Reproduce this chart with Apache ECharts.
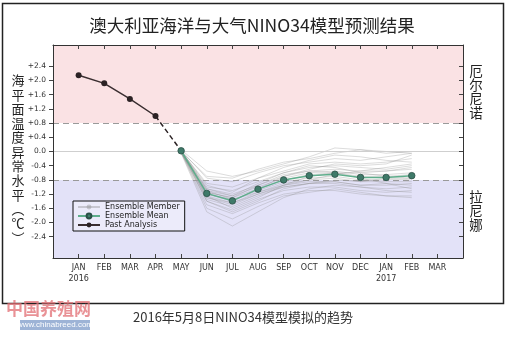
<!DOCTYPE html>
<html><head><meta charset="utf-8">
<script src="https://cdn.jsdelivr.net/npm/echarts@6/dist/echarts.min.js"></script>
<style>html,body{margin:0;padding:0;background:#fff}#c{width:507px;height:337px}</style>
</head><body><div id="c"></div>
<script>
// ---- data ----
const monthLabels = ['JAN\n2016','FEB','MAR','APR','MAY','JUN','JUL','AUG','SEP','OCT','NOV','DEC','JAN\n2017','FEB','MAR'];
const yTickValues = [-2.4,-2.0,-1.6,-1.2,-0.8,-0.4,0,0.4,0.8,1.2,1.6,2.0,2.4];
const pastMonths = [0,1,2,3];
const pastValues = [2.15,1.92,1.48,1.00];
const forecastMonths = [4,5,6,7,8,9,10,11,12,13];
const meanValues = [0.02,-1.18,-1.39,-1.06,-0.80,-0.68,-0.64,-0.73,-0.73,-0.68];
const memberValues = [
  [0.05,-0.55,-0.70,-0.55,-0.35,-0.15,0.10,0.05,-0.05,0.00],
  [0.03,-0.75,-0.85,-0.60,-0.40,-0.30,-0.20,-0.25,-0.15,-0.05],
  [0.00,-0.90,-1.00,-0.75,-0.55,-0.35,-0.30,-0.35,-0.30,-0.20],
  [0.02,-1.00,-1.10,-0.85,-0.60,-0.45,-0.40,-0.45,-0.50,-0.40],
  [0.01,-1.05,-1.20,-0.95,-0.70,-0.55,-0.50,-0.55,-0.55,-0.50],
  [0.00,-1.10,-1.25,-1.00,-0.75,-0.60,-0.55,-0.65,-0.65,-0.60],
  [0.02,-1.15,-1.30,-1.05,-0.80,-0.65,-0.60,-0.70,-0.70,-0.65],
  [0.00,-1.20,-1.35,-1.10,-0.85,-0.75,-0.70,-0.80,-0.80,-0.75],
  [-0.02,-1.25,-1.45,-1.15,-0.90,-0.80,-0.75,-0.85,-0.85,-0.85],
  [0.01,-1.30,-1.50,-1.20,-0.95,-0.85,-0.85,-0.95,-0.95,-0.90],
  [-0.01,-1.35,-1.55,-1.25,-1.00,-0.90,-0.90,-1.00,-1.05,-1.00],
  [0.00,-1.40,-1.65,-1.35,-1.10,-1.00,-1.00,-1.10,-1.15,-1.10],
  [-0.03,-1.50,-1.75,-1.45,-1.20,-1.10,-1.10,-1.20,-1.25,-1.25],
  [-0.02,-1.60,-1.90,-1.55,-1.25,-1.15,-1.05,-1.15,-1.25,-1.30],
  [-0.05,-1.70,-2.10,-1.70,-1.30,-1.05,-0.95,-1.00,-1.10,-1.15],
  [0.02,-0.95,-1.15,-0.75,-0.45,-0.25,-0.10,-0.15,-0.25,-0.30],
  [0.01,-1.20,-1.40,-1.05,-0.70,-0.50,-0.35,-0.40,-0.35,-0.10],
  [0.00,-1.10,-1.35,-1.15,-0.95,-0.80,-0.65,-0.55,-0.45,-0.35],
  [0.03,-1.25,-1.60,-1.30,-0.95,-0.70,-0.60,-0.60,-0.55,-0.45],
  [-0.01,-1.15,-1.30,-0.95,-0.65,-0.55,-0.60,-0.75,-0.90,-1.05],
  [0.00,-1.30,-1.45,-1.20,-1.00,-0.90,-0.80,-0.85,-0.75,-0.80],
  [0.02,-1.05,-1.25,-0.90,-0.60,-0.40,-0.45,-0.60,-0.70,-0.75],
  [-0.02,-1.40,-1.70,-1.40,-1.05,-0.90,-0.85,-0.95,-0.90,-0.95],
  [0.00,-0.70,-0.75,-0.50,-0.30,-0.20,-0.05,0.05,0.00,-0.05]
];
const elNinoThreshold = 0.8;
const laNinaThreshold = -0.8;

// ---- chart ----
const chart = echarts.init(document.getElementById('c'), null, {renderer:'canvas'});
const monthTicks = monthLabels.map((_, i) => i);
const pair = (xs, ys) => ys.map((v, i) => [xs[i], v]);
const F = 'DejaVu Sans';

const series = [];
series.push({
  name: 'bands', type: 'line', data: [[-1, 0]], symbol: 'none', silent: true, z: 1,
  lineStyle: {opacity: 0},
  markArea: {silent: true, itemStyle: {opacity: 1}, data: [
    [{xAxis: -1, yAxis: elNinoThreshold, itemStyle: {color: '#fae2e4'}}, {xAxis: 15, yAxis: 3}],
    [{xAxis: -1, yAxis: -3, itemStyle: {color: '#e3e2f8'}}, {xAxis: 15, yAxis: laNinaThreshold}]
  ]},
  markLine: {silent: true, symbol: 'none', label: {show: false}, data: [
    {yAxis: elNinoThreshold, lineStyle: {color: '#9a9a9a', type: [6, 4], width: 1}},
    {yAxis: laNinaThreshold, lineStyle: {color: '#9a9a9a', type: [6, 4], width: 1}},
    {yAxis: 0, lineStyle: {color: '#cfcfcf', type: 'solid', width: 1}}
  ]}
});
memberValues.forEach(m => series.push({
  name: 'Ensemble Member', type: 'line', data: pair(forecastMonths, m), symbol: 'none', z: 3,
  color: 'rgba(140,140,140,0.4)', lineStyle: {width: 0.8, color: 'rgba(140,140,140,0.38)'}
}));
series.push({
  name: 'connector', type: 'line', symbol: 'none', z: 4,
  data: [[pastMonths[pastMonths.length-1], pastValues[pastValues.length-1]], [forecastMonths[0], meanValues[0]]],
  lineStyle: {color: '#2b2224', width: 1.5, type: [5, 3]}
});
series.push({
  name: 'Past Analysis', type: 'line', data: pair(pastMonths, pastValues), z: 5,
  symbol: 'circle', symbolSize: 6, color: '#2b2224',
  lineStyle: {color: '#3a2e30', width: 1.5}, itemStyle: {color: '#2b2224'}
});
series.push({
  name: 'Ensemble Mean', type: 'line', data: pair(forecastMonths, meanValues), z: 6,
  symbol: 'circle', symbolSize: 6.5, color: '#3f7a69',
  lineStyle: {color: '#5fae8c', width: 1.5},
  itemStyle: {color: '#3f7a69', borderColor: '#2b5046', borderWidth: 0.8}
});

const xBase = {type: 'value', min: -1, max: 15, interval: 1, splitLine: {show: false}, z: 10,
  axisLine: {show: true, onZero: false, lineStyle: {color: '#333', width: 1}},
  axisTick: {show: true, inside: true, length: 4, customValues: monthTicks, lineStyle: {color: '#444'}}};
const yBase = {type: 'value', min: -3, max: 3, splitLine: {show: false}, z: 10,
  axisLine: {show: true, onZero: false, lineStyle: {color: '#333', width: 1}}};

chart.setOption({
  animation: false,
  grid: {left: 53, top: 45, width: 410, height: 213, containLabel: false},
  xAxis: [
    Object.assign({}, xBase, {position: 'bottom',
      axisLabel: {show: true, customValues: monthTicks, formatter: v => monthLabels[v] || '',
        fontFamily: F, fontSize: 8, color: '#333', margin: 4, lineHeight: 11}}),
    Object.assign({}, xBase, {position: 'top', axisLabel: {show: false}})
  ],
  yAxis: [
    Object.assign({}, yBase, {position: 'left',
      axisTick: {show: true, inside: false, length: 4, customValues: yTickValues, lineStyle: {color: '#444'}},
      axisLabel: {show: true, customValues: yTickValues, margin: 7, fontFamily: F, fontSize: 7.5, color: '#333',
        formatter: v => (v > 0 ? '+' : '') + v.toFixed(1)}}),
    Object.assign({}, yBase, {position: 'right',
      axisTick: {show: true, inside: true, length: 4, customValues: yTickValues, lineStyle: {color: '#444'}},
      axisLabel: {show: false}})
  ],
  legend: {
    data: ['Ensemble Member', 'Ensemble Mean', 'Past Analysis'],
    orient: 'vertical', left: 73, top: 201, padding: [2, 5, 2, 4], itemGap: 1,
    itemWidth: 22, itemHeight: 6, borderColor: '#111', borderWidth: 1,
    backgroundColor: 'rgba(236,236,250,0.9)', selectedMode: false,
    textStyle: {fontFamily: F, fontSize: 8, color: '#222', padding: [0, 0, 0, 0]}
  },
  series: series,
  graphic: [
    {type: 'rect', shape: {x: 2.5, y: 3.5, width: 501, height: 300}, style: {fill: 'none', stroke: '#222', lineWidth: 1.5}, z: 0},
    {type: 'text', x: 252, y: 25, style: {text: '澳大利亚海洋与大气NINO34模型预测结果', font: '17.5px "Noto Sans CJK SC"', fill: '#222', align: 'center', verticalAlign: 'middle'}},
    {type: 'text', x: 18, y: 159, style: {text: '海\n平\n面\n温\n度\n异\n常\n水\n平\n︵\n℃\n︶', font: '13px "Noto Sans CJK SC"', lineHeight: 14.3, fill: '#222', align: 'center', verticalAlign: 'middle'}},
    {type: 'text', x: 476, y: 92, style: {text: '厄\n尔\n尼\n诺', font: '13.5px "Noto Sans CJK SC"', lineHeight: 14.2, fill: '#222', align: 'center', verticalAlign: 'middle'}},
    {type: 'text', x: 476, y: 211, style: {text: '拉\n尼\n娜', font: '13.5px "Noto Sans CJK SC"', lineHeight: 14.2, fill: '#222', align: 'center', verticalAlign: 'middle'}},
    {type: 'text', x: 133, y: 317, style: {text: '2016年5月8日NINO34模型模拟的趋势', font: '13px "Noto Sans CJK SC"', fill: '#333', align: 'left', verticalAlign: 'middle'}},
    {type: 'text', x: 6, y: 309, style: {text: '中国养殖网', font: 'bold 17px "Noto Sans CJK SC"', fill: 'rgba(225,110,115,0.75)', align: 'left', verticalAlign: 'middle'}},
    {type: 'rect', shape: {x: 20, y: 320, width: 70, height: 10}, style: {fill: '#9db3d6'}},
    {type: 'text', x: 55, y: 325, style: {text: 'www.chinabreed.com', font: '8px "Liberation Sans"', fill: '#fff', align: 'center', verticalAlign: 'middle'}}
  ]
});
</script></body></html>
